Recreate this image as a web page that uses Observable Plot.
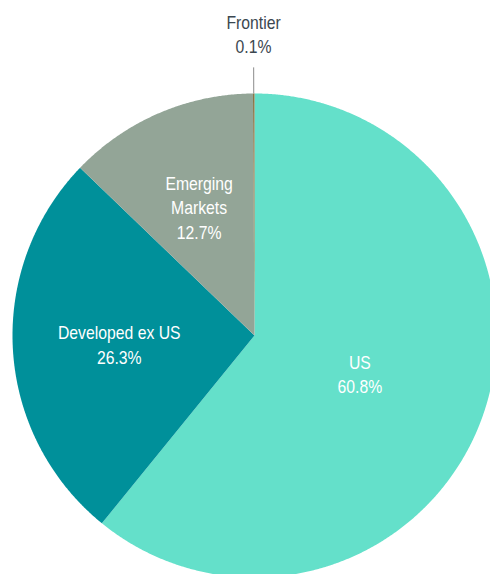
<!DOCTYPE html>
<html>
<head>
<meta charset="utf-8">
<script src="https://cdn.jsdelivr.net/npm/d3@7"></script>
<script src="https://cdn.jsdelivr.net/npm/@observablehq/plot@0.6"></script>
<style>
  html, body { margin: 0; padding: 0; background: #ffffff; }
  #chart svg { display: block; }
</style>
</head>
<body>
<div id="chart"></div>
<script>
const categories = ["US", "Developed ex US", "Emerging Markets", "Frontier"];
const shares = [60.8, 26.3, 12.7, 0.1];
const labelTexts = ["US\n60.8%", "Developed ex US\n26.3%", "Emerging\nMarkets\n12.7%", "Frontier\n0.1%"];
const sliceColors = ["#64e0ca", "#00909a", "#93a597", "#8a7546"];

const W = 490, H = 574;
const R = 242, CX = 254, CY = 335;
// label radius (fraction of pie radius) per slice; Frontier sits outside
const labelR = {"US": 0.462, "Developed ex US": 0.56, "Emerging Markets": 0.58, "Frontier": 1.25};

const data = categories.map((c, i) => ({cat: c, share: shares[i], label: labelTexts[i]}));
const arcs = d3.pie().sort(null).value(d => d.share)(data);

const points = [];
for (const a of arcs) {
  points.push({cat: a.data.cat, x: 0, y: 0});
  const n = Math.max(2, Math.ceil((a.endAngle - a.startAngle) / 0.005));
  for (let k = 0; k <= n; k++) {
    const t = a.startAngle + (a.endAngle - a.startAngle) * k / n;
    points.push({cat: a.data.cat, x: Math.sin(t), y: Math.cos(t)});
  }
}

const labels = arcs.map(a => {
  const m = (a.startAngle + a.endAngle) / 2;
  const r = labelR[a.data.cat];
  return {cat: a.data.cat, text: a.data.label, x: r * Math.sin(m), y: r * Math.cos(m),
          outside: a.data.cat === "Frontier"};
});

const frontier = arcs.find(a => a.data.cat === "Frontier");
const fm = (frontier.startAngle + frontier.endAngle) / 2;
const leader = [{x1: Math.sin(fm), y1: Math.cos(fm), x2: 1.108 * Math.sin(fm), y2: 1.108 * Math.cos(fm)}];

const chart = Plot.plot({
  width: W,
  height: H,
  margin: 0,
  x: {domain: [-CX / R, (W - CX) / R], axis: null},
  y: {domain: [-(H - CY) / R, CY / R], axis: null},
  color: {domain: categories, range: sliceColors},
  style: {fontFamily: "'Liberation Sans', Arial, sans-serif", background: "#ffffff"},
  marks: [
    Plot.line(points, {x: "x", y: "y", z: "cat", fill: "cat", stroke: null, curve: "linear-closed"}),
    Plot.link(leader, {x1: "x1", y1: "y1", x2: "x2", y2: "y2", stroke: "#8c8c8c", strokeWidth: 1}),
    Plot.text(labels.filter(d => !d.outside), {x: "x", y: "y", text: "text", fill: "#ffffff",
      fontSize: 19, lineHeight: 1.28, textAnchor: "middle"}),
    Plot.text(labels.filter(d => d.outside), {x: "x", y: "y", text: "text", fill: "#3b4750",
      fontSize: 19, lineHeight: 1.28, textAnchor: "middle"})
  ]
});

// condense the label glyphs horizontally around their anchor (the reference uses a condensed face)
chart.querySelectorAll("g[aria-label='text'] > text").forEach(el => {
  let tr = el.getAttribute("transform") || "";
  const x = el.getAttribute("x"), y = el.getAttribute("y");
  if (x !== null || y !== null) {
    tr += ` translate(${x || 0},${y || 0})`;
    el.removeAttribute("x"); el.removeAttribute("y");
  }
  el.setAttribute("transform", `${tr} scale(0.83,1)`.trim());
});

document.getElementById("chart").appendChild(chart);
</script>
</body>
</html>
